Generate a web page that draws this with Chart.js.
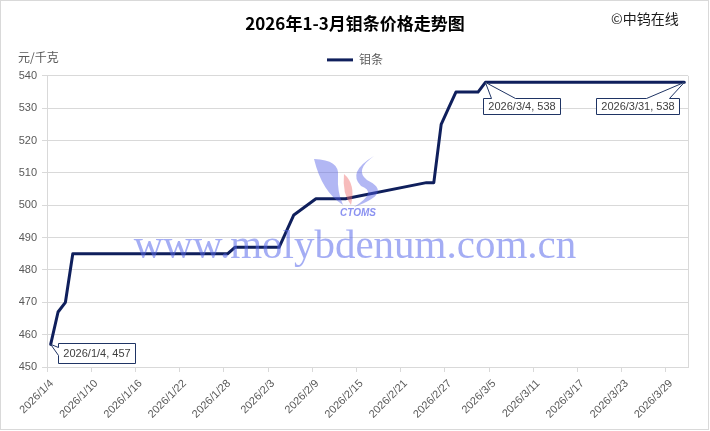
<!DOCTYPE html>
<html>
<head>
<meta charset="utf-8">
<script src="https://cdn.jsdelivr.net/npm/chart.js@4.4.1/dist/chart.umd.min.js"></script>
<style>
  html, body { margin: 0; padding: 0; background: #ffffff; }
  #wrap { width: 710px; height: 431px; position: relative; }
</style>
</head>
<body>
<div id="wrap"><canvas id="c" width="710" height="431"></canvas></div>
<script>
// ---------------- data ----------------
const chartTitle = '2026年1-3月钼条价格走势图';
const seriesName = '钼条';
const unitLabel = '元/千克';
const copyrightText = '©中钨在线';
const watermarkText = 'www.molybdenum.com.cn';
const logoText = 'CTOMS';

const axisStart = '2026/1/4';
const axisEnd = '2026/3/31';

const dates = [
  '2026/1/4', '2026/1/5', '2026/1/6', '2026/1/7', '2026/1/8', '2026/1/9',
  '2026/1/12', '2026/1/13', '2026/1/14', '2026/1/15', '2026/1/16',
  '2026/1/19', '2026/1/20', '2026/1/21', '2026/1/22', '2026/1/23',
  '2026/1/26', '2026/1/27', '2026/1/28', '2026/1/29', '2026/1/30',
  '2026/2/2', '2026/2/3', '2026/2/4', '2026/2/5', '2026/2/6',
  '2026/2/9', '2026/2/10', '2026/2/11', '2026/2/12', '2026/2/13',
  '2026/2/24', '2026/2/25', '2026/2/26', '2026/2/27', '2026/2/28',
  '2026/3/2', '2026/3/3', '2026/3/4', '2026/3/5', '2026/3/6',
  '2026/3/9', '2026/3/10', '2026/3/11', '2026/3/12', '2026/3/13',
  '2026/3/16', '2026/3/17', '2026/3/18', '2026/3/19', '2026/3/20',
  '2026/3/23', '2026/3/24', '2026/3/25', '2026/3/26', '2026/3/27',
  '2026/3/30', '2026/3/31'
];
const prices = [
  457, 467, 470, 485, 485, 485,
  485, 485, 485, 485, 485,
  485, 485, 485, 485, 485,
  485, 485, 485, 487, 487,
  487, 487, 487, 492, 497,
  502, 502, 502, 502, 502,
  507, 507, 525, 530, 535,
  535, 535, 538, 538, 538,
  538, 538, 538, 538, 538,
  538, 538, 538, 538, 538,
  538, 538, 538, 538, 538,
  538, 538
];

const xTickLabels = [
  '2026/1/4', '2026/1/10', '2026/1/16', '2026/1/22', '2026/1/28',
  '2026/2/3', '2026/2/9', '2026/2/15', '2026/2/21', '2026/2/27',
  '2026/3/5', '2026/3/11', '2026/3/17', '2026/3/23', '2026/3/29'
];
const yTickValues = [450, 460, 470, 480, 490, 500, 510, 520, 530, 540];
const labelledDates = ['2026/1/4', '2026/3/4', '2026/3/31'];

// ---------------- helpers ----------------
function toUTC(s) {
  const p = s.split('/').map(Number);
  return Date.UTC(p[0], p[1] - 1, p[2]);
}
const startMs = toUTC(axisStart);
function dayIndex(s) { return Math.round((toUTC(s) - startMs) / 86400000); }
const axisDays = dayIndex(axisEnd) + 1;

const LINE_COLOR = '#0f1f5c';
const GRID_COLOR = '#d9d9d9';
const TEXT_COLOR = '#595959';
const SANS = '"Liberation Sans", "Noto Sans CJK SC", sans-serif';
const CJK = '"Noto Sans CJK SC", "Liberation Sans", sans-serif';

// callout styles (position relative to the point)
const calloutStyles = {
  '2026/1/4':  { side: 'left',  dx: 7,  dy: -1, h: 20 },
  '2026/3/4':  { side: 'top',   dx: -2, dy: 16, h: 16, t0: 8,  t1: 32 },
  '2026/3/31': { side: 'topR',  dx: -5, dy: 16, h: 16, t0: 33, t1: 10 }
};

const decorPlugin = {
  id: 'decor',
  beforeDraw(chart) {
    const ctx = chart.ctx;
    ctx.save();
    ctx.fillStyle = '#ffffff';
    ctx.fillRect(0, 0, chart.width, chart.height);
    ctx.restore();
  },
  afterDraw(chart) {
    const ctx = chart.ctx;
    const area = chart.chartArea;
    const xs = chart.scales.x, ys = chart.scales.y;
    ctx.save();

    // plot area right border
    ctx.strokeStyle = GRID_COLOR;
    ctx.lineWidth = 1;
    ctx.beginPath();
    ctx.moveTo(Math.round(area.right) + 0.5, area.top);
    ctx.lineTo(Math.round(area.right) + 0.5, area.bottom);
    ctx.stroke();

    // unit label and copyright
    ctx.fillStyle = TEXT_COLOR;
    ctx.font = '12px ' + CJK;
    ctx.textAlign = 'left';
    ctx.textBaseline = 'middle';
    ctx.fillText(unitLabel, 18, 57);
    ctx.fillStyle = '#1a1a1a';
    ctx.font = '14px ' + CJK;
    ctx.fillText(copyrightText, 611, 19);

    // callouts
    ctx.font = '11px ' + SANS;
    labelledDates.forEach(d => {
      const i = dates.indexOf(d);
      if (i < 0) return;
      const st = calloutStyles[d];
      const px = xs.getPixelForValue(dayIndex(d) + 0.5);
      const py = ys.getPixelForValue(prices[i]);
      const text = d + ', ' + prices[i];
      const w = Math.round(ctx.measureText(text).width + 10);
      let L, T;
      if (st.side === 'left' || st.side === 'top') { L = px + st.dx; T = py + st.dy; }
      else { L = px + st.dx - w; T = py + st.dy; }
      L = Math.round(L) + 0.5; T = Math.round(T) + 0.5;
      const R = L + w, B = T + st.h;
      ctx.beginPath();
      if (st.side === 'left') {
        ctx.moveTo(L, T);
        ctx.lineTo(R, T); ctx.lineTo(R, B); ctx.lineTo(L, B);
        ctx.lineTo(L, T + 12);
        ctx.lineTo(px, py);
        ctx.lineTo(L, T + 4);
        ctx.closePath();
      } else {
        const a = st.side === 'top' ? L + st.t0 : R - st.t0;
        const b = st.side === 'top' ? L + st.t1 : R - st.t1;
        ctx.moveTo(L, T);
        ctx.lineTo(a, T);
        ctx.lineTo(px, py);
        ctx.lineTo(b, T);
        ctx.lineTo(R, T); ctx.lineTo(R, B); ctx.lineTo(L, B);
        ctx.closePath();
      }
      ctx.fillStyle = '#ffffff';
      ctx.fill();
      ctx.strokeStyle = '#1f3464';
      ctx.lineWidth = 1;
      ctx.stroke();
      ctx.fillStyle = '#404040';
      ctx.textAlign = 'center';
      ctx.textBaseline = 'middle';
      ctx.fillText(text, (L + R) / 2, (T + B) / 2 + 0.5);
    });

    // watermark logo
    ctx.globalAlpha = 0.45;
    ctx.fillStyle = '#5560e6';
    ctx.beginPath();
    ctx.moveTo(314, 159);
    ctx.quadraticCurveTo(340, 160, 338, 176);
    ctx.quadraticCurveTo(337, 192, 343, 205);
    ctx.quadraticCurveTo(322, 192, 314, 159);
    ctx.fill();
    ctx.beginPath();
    ctx.moveTo(374, 156);
    ctx.quadraticCurveTo(354, 170, 367, 180);
    ctx.quadraticCurveTo(394, 193, 354, 207);
    ctx.quadraticCurveTo(378, 192, 361, 186);
    ctx.quadraticCurveTo(347, 172, 374, 156);
    ctx.fill();
    ctx.fillStyle = '#ee6a6a';
    ctx.beginPath();
    ctx.moveTo(344, 174);
    ctx.quadraticCurveTo(356, 184, 351, 205);
    ctx.quadraticCurveTo(342, 194, 344, 174);
    ctx.fill();
    ctx.globalAlpha = 0.7;
    ctx.fillStyle = '#5a64eb';
    ctx.font = 'italic bold 10px ' + SANS;
    ctx.textAlign = 'center';
    ctx.textBaseline = 'middle';
    ctx.fillText(logoText, 358, 213);

    // watermark text
    ctx.globalAlpha = 0.55;
    ctx.fillStyle = '#5a69eb';
    ctx.font = '41px "Liberation Serif", "DejaVu Serif", serif';
    ctx.textAlign = 'center';
    ctx.textBaseline = 'alphabetic';
    ctx.fillText(watermarkText, 355, 258);
    ctx.globalAlpha = 1;

    // outer border
    ctx.strokeStyle = GRID_COLOR;
    ctx.lineWidth = 1;
    ctx.strokeRect(0.5, 0.5, chart.width - 2, chart.height - 2);
    ctx.restore();
  }
};

new Chart(document.getElementById('c'), {
  type: 'line',
  data: {
    datasets: [{
      label: seriesName,
      data: dates.map((d, i) => ({ x: dayIndex(d) + 0.5, y: prices[i] })),
      borderColor: LINE_COLOR,
      backgroundColor: LINE_COLOR,
      borderWidth: 3,
      pointRadius: 0,
      pointHoverRadius: 0,
      tension: 0,
      borderJoinStyle: 'round',
      borderCapStyle: 'round',
      fill: false
    }]
  },
  options: {
    responsive: false,
    animation: false,
    devicePixelRatio: 1,
    layout: { padding: { left: 0, right: 0, top: 0, bottom: 0 } },
    plugins: {
      title: {
        display: true,
        text: chartTitle,
        color: '#000000',
        font: { family: CJK, size: 17, weight: 'bold', lineHeight: 1.2 },
        padding: { top: 13, bottom: 9.5 }
      },
      legend: {
        display: true,
        labels: {
          boxWidth: 26,
          boxHeight: 3,
          padding: 11,
          color: TEXT_COLOR,
          font: { family: CJK, size: 12 },
          generateLabels: (chart) => Chart.defaults.plugins.legend.labels.generateLabels(chart)
            .map(l => Object.assign(l, { lineWidth: 0, fillStyle: LINE_COLOR }))
        }
      },
      tooltip: { enabled: false }
    },
    scales: {
      x: {
        type: 'linear',
        min: 0,
        max: axisDays,
        afterBuildTicks: (s) => { s.ticks = xTickLabels.map(l => ({ value: dayIndex(l) })); },
        afterFit: (s) => { s.height = 64; },
        ticks: {
          autoSkip: false,
          maxRotation: 45,
          minRotation: 45,
          padding: 5,
          labelOffset: 5,
          color: TEXT_COLOR,
          font: { family: SANS, size: 11 },
          callback: (v, i) => xTickLabels[i]
        },
        grid: { display: true, drawOnChartArea: false, drawTicks: true, tickLength: 5, color: GRID_COLOR },
        border: { display: true, color: GRID_COLOR }
      },
      y: {
        min: yTickValues[0],
        max: yTickValues[yTickValues.length - 1],
        afterBuildTicks: (s) => { s.ticks = yTickValues.map(v => ({ value: v })); },
        afterFit: (s) => { s.width = 47; },
        ticks: {
          padding: 5,
          color: TEXT_COLOR,
          font: { family: SANS, size: 11 }
        },
        grid: { color: GRID_COLOR, tickLength: 5 },
        border: { display: true, color: GRID_COLOR }
      },
      yRight: {
        position: 'right',
        display: true,
        afterFit: (s) => { s.width = 22; },
        ticks: { display: false },
        grid: { display: false, drawTicks: false },
        border: { display: false }
      }
    }
  },
  plugins: [decorPlugin]
});
</script>
</body>
</html>
